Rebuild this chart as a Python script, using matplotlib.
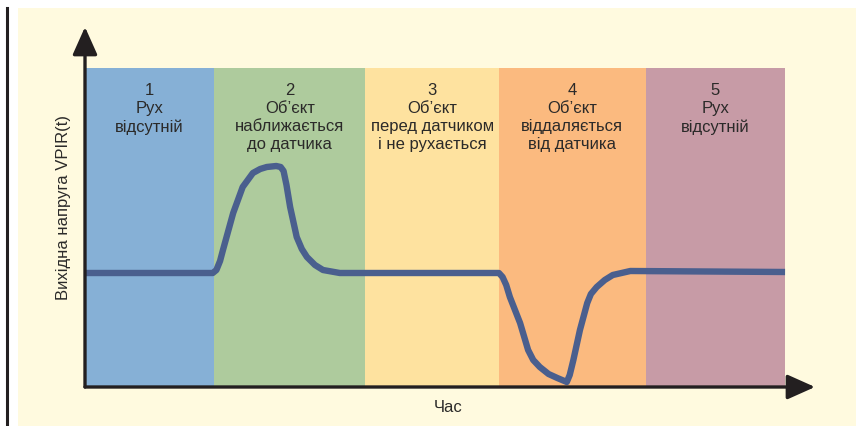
import matplotlib
matplotlib.use('Agg')
import matplotlib.pyplot as plt
from matplotlib.patches import Rectangle
from matplotlib.lines import Line2D

plt.rcParams['font.family'] = ['Liberation Sans', 'DejaVu Sans']

# phases (time units) and their labels
band_edges = [0, 1.77, 3.84, 5.67, 7.68, 9.59]
band_colors = ['#86b0d6', '#aecb9d', '#fee29f', '#fbba7f', '#c79ba6']
band_labels = ['1\nРух\nвідсутній',
               '2\nОб’єкт\nнаближається\nдо датчика',
               '3\nОб’єкт\nперед датчиком\nі не рухається',
               '4\nОб’єкт\nвіддаляється\nвід датчика',
               '5\nРух\nвідсутній']
band_top = 3.19

# sensor output VPIR(t)
t = [0, 1.75, 1.80, 1.85, 1.89, 2.03, 2.16, 2.30, 2.40, 2.49, 2.62, 2.68,
     2.72, 2.76, 2.81, 2.90, 2.97, 3.04, 3.15, 3.26, 3.49, 5.67, 5.72, 5.77,
     5.82, 5.96, 6.07, 6.14, 6.23, 6.35, 6.47, 6.60, 6.64, 6.69, 6.78, 6.88,
     6.93, 7.01, 7.12, 7.23, 7.47, 9.59]
v = [1.14, 1.14, 1.17, 1.26, 1.37, 1.74, 2.00, 2.14, 2.18, 2.20, 2.21, 2.20,
     2.16, 2.02, 1.80, 1.50, 1.38, 1.30, 1.22, 1.17, 1.14, 1.14, 1.10, 1.02,
     0.90, 0.64, 0.37, 0.27, 0.20, 0.13, 0.09, 0.05, 0.12, 0.27, 0.57, 0.84,
     0.93, 1.00, 1.07, 1.12, 1.16, 1.15]

W, H = 856, 426
fig = plt.figure(figsize=(W / 100, H / 100), dpi=100, facecolor='white')

# cream page and left rule
fig.patches.append(Rectangle((18 / W, 0), 1 - 18 / W, 1 - 8 / H,
                             transform=fig.transFigure, facecolor='#fffadf',
                             edgecolor='none', zorder=-10))
fig.lines.append(Line2D([7 / W, 7 / W], [0, 1 - 8 / H], transform=fig.transFigure,
                        color='#231f20', lw=2.2, zorder=-10))

ax = fig.add_axes([85 / W, 39 / H, 730 / W, 360 / H])
ax.set_facecolor('none')
ax.set_xlim(0, 10)
ax.set_ylim(0, 3.6)
for s in ax.spines.values():
    s.set_visible(False)
ax.set_xticks([])
ax.set_yticks([])

lefts = band_edges[:-1]
widths = [b - a for a, b in zip(band_edges[:-1], band_edges[1:])]
ax.bar(lefts, [band_top] * len(lefts), width=widths, align='edge',
       color=band_colors, edgecolor='none', zorder=1)

for x0, w, lab in zip(lefts, widths, band_labels):
    ax.text(x0 + w / 2, 3.04, lab, ha='center', va='top', fontsize=12,
            linespacing=1.25, color='#2b2a29', zorder=3)

ax.plot(t, v, color='#4a5f8e', lw=4.6, solid_joinstyle='round',
        solid_capstyle='butt', zorder=2)

# axes with arrows
arrow = dict(arrowstyle='-|>,head_length=0.85,head_width=0.38', color='#231f20',
             lw=2.4, shrinkA=0, shrinkB=0, mutation_scale=20)
ax.annotate('', xy=(10, 0), xytext=(0, 0), arrowprops=arrow,
            annotation_clip=False, zorder=4)
ax.annotate('', xy=(0, 3.6), xytext=(0, 0), arrowprops=arrow,
            annotation_clip=False, zorder=4)

ax.text(-0.3, 1.8, 'Вихідна напруга VPIR(t)', rotation=90, ha='center',
        va='center', fontsize=12, color='#2b2a29')
ax.text(4.97, -0.2, 'Час', ha='center', va='center', fontsize=12,
        color='#2b2a29')

fig.savefig('out.png', dpi=100, facecolor='white')
